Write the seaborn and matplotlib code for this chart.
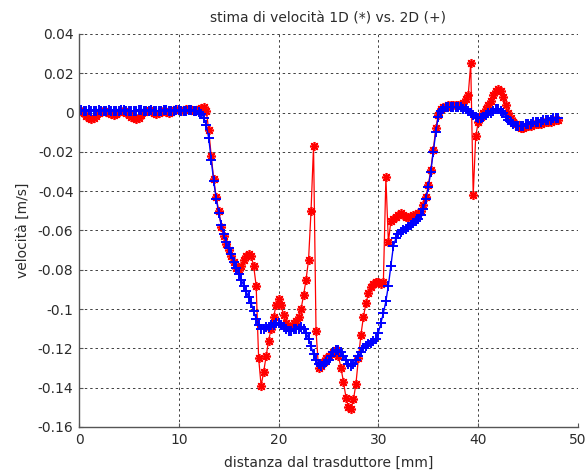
import numpy as np
import matplotlib
matplotlib.use("Agg")
import matplotlib.pyplot as plt
import seaborn as sns

sns.set_style("white")
plt.rcParams["font.family"] = ["DejaVu Sans"]
plt.rcParams["axes.unicode_minus"] = False

# sampling positions along the beam [mm], 0.25 mm step
distanza = np.arange(0, 48.01, 0.25)

# 1D velocity estimate [m/s]
vel_1d = [
    0.0010, 0.0008, 0.0000, -0.0015, -0.0030, -0.0035, -0.0030, -0.0015,
    0.0000, 0.0008, 0.0010, 0.0005, 0.0000, -0.0008, -0.0010, -0.0005,
    0.0005, 0.0010, 0.0008, 0.0000, -0.0010, -0.0020, -0.0030, -0.0035,
    -0.0025, -0.0010, 0.0005, 0.0010, 0.0012, 0.0008, 0.0000, -0.0005,
    0.0000, 0.0008, 0.0010, 0.0005, 0.0000, 0.0005, 0.0015, 0.0020,
    0.0015, 0.0010, 0.0012, 0.0018, 0.0020, 0.0015, 0.0010, 0.0015,
    0.0020, 0.0025, 0.0030, 0.0010, -0.009, -0.022, -0.034, -0.043,
    -0.050, -0.058, -0.063, -0.067, -0.070, -0.073, -0.076, -0.079,
    -0.080, -0.078, -0.075, -0.073, -0.072, -0.073, -0.078, -0.088,
    -0.125, -0.139, -0.132, -0.124, -0.116, -0.110, -0.104, -0.098,
    -0.095, -0.098, -0.103, -0.107, -0.109, -0.109, -0.107, -0.106,
    -0.104, -0.100, -0.093, -0.085, -0.075, -0.050, -0.017, -0.111,
    -0.130, -0.129, -0.127, -0.125, -0.124, -0.123, -0.122, -0.121,
    -0.124, -0.130, -0.137, -0.145, -0.150, -0.151, -0.146, -0.138,
    -0.125, -0.113, -0.104, -0.097, -0.092, -0.089, -0.087, -0.086,
    -0.086, -0.087, -0.086, -0.033, -0.066, -0.055, -0.054, -0.053,
    -0.052, -0.051, -0.052, -0.053, -0.053, -0.053, -0.052, -0.052,
    -0.051, -0.050, -0.047, -0.043, -0.037, -0.029, -0.019, -0.008,
    -0.001, 0.002, 0.003, 0.003, 0.004, 0.004, 0.004, 0.004,
    0.004, 0.004, 0.005, 0.007, 0.009, 0.025, -0.042, -0.012,
    -0.005, -0.002, 0.000, 0.002, 0.004, 0.006, 0.009, 0.011,
    0.012, 0.011, 0.008, 0.004, 0.000, -0.003, -0.005, -0.006,
    -0.007, -0.008, -0.008, -0.007, -0.007, -0.007, -0.006, -0.006,
    -0.006, -0.006, -0.005, -0.005, -0.005, -0.005, -0.004, -0.004,
    -0.004,
]

# 2D velocity estimate [m/s]
vel_2d = [
    0.0010, 0.0012, 0.0008, 0.0010, 0.0011, 0.0009, 0.0007, 0.0010,
    0.0012, 0.0010, 0.0008, 0.0009, 0.0011, 0.0010, 0.0009, 0.0008,
    0.0010, 0.0012, 0.0011, 0.0009, 0.0010, 0.0010, 0.0008, 0.0009,
    0.0011, 0.0012, 0.0010, 0.0009, 0.0010, 0.0011, 0.0010, 0.0008,
    0.0009, 0.0010, 0.0012, 0.0011, 0.0010, 0.0009, 0.0010, 0.0011,
    0.0012, 0.0010, 0.0009, 0.0010, 0.0011, 0.0012, 0.0010, 0.0009,
    0.0005, -0.0005, -0.0025, -0.0065, -0.013, -0.024, -0.035, -0.044,
    -0.051, -0.057, -0.062, -0.066, -0.069, -0.072, -0.076, -0.079,
    -0.082, -0.085, -0.088, -0.091, -0.094, -0.097, -0.101, -0.105,
    -0.108, -0.110, -0.110, -0.109, -0.109, -0.108, -0.108, -0.107,
    -0.107, -0.108, -0.109, -0.110, -0.111, -0.111, -0.110, -0.110,
    -0.110, -0.109, -0.110, -0.112, -0.115, -0.119, -0.123, -0.126,
    -0.128, -0.129, -0.128, -0.127, -0.126, -0.124, -0.122, -0.121,
    -0.121, -0.122, -0.124, -0.126, -0.128, -0.129, -0.128, -0.126,
    -0.124, -0.122, -0.120, -0.119, -0.118, -0.117, -0.116, -0.115,
    -0.112, -0.107, -0.102, -0.096, -0.088, -0.078, -0.068, -0.064,
    -0.062, -0.061, -0.060, -0.059, -0.058, -0.057, -0.056, -0.055,
    -0.054, -0.052, -0.049, -0.044, -0.038, -0.030, -0.020, -0.010,
    -0.002, 0.001, 0.002, 0.003, 0.003, 0.003, 0.003, 0.003,
    0.003, 0.003, 0.002, 0.002, 0.001, 0.000, -0.001, -0.002,
    -0.003, -0.003, -0.002, -0.001, 0.000, 0.000, 0.001, 0.002,
    0.002, 0.001, 0.000, -0.002, -0.004, -0.005, -0.006, -0.007,
    -0.007, -0.007, -0.007, -0.006, -0.006, -0.006, -0.005, -0.005,
    -0.005, -0.005, -0.004, -0.004, -0.004, -0.004, -0.003, -0.003,
    -0.003,
]

x_ticks = [0, 10, 20, 30, 40, 50]
y_ticks = [0.04, 0.02, 0, -0.02, -0.04, -0.06, -0.08, -0.1, -0.12, -0.14, -0.16]

text_col = "#2b2b2b"

fig, ax = plt.subplots(figsize=(5.87, 4.73), dpi=100)
fig.subplots_adjust(left=79 / 587, right=578 / 587, bottom=1 - 427 / 473, top=1 - 34 / 473)

sns.lineplot(x=distanza, y=vel_1d, ax=ax, color="red", marker=(8, 2, 0),
             markersize=6.5, markeredgecolor="red", markeredgewidth=1.2,
             linewidth=0.9, estimator=None, sort=False)
sns.lineplot(x=distanza, y=vel_2d, ax=ax, color="blue", marker="+",
             markersize=7, markeredgecolor="blue", markeredgewidth=1.4,
             linewidth=1.0, estimator=None, sort=False)

ax.set_xlim(0, 50)
ax.set_ylim(-0.16, 0.04)
ax.set_xticks(x_ticks)
ax.set_xticklabels([f"{v:g}" for v in x_ticks])
ax.set_yticks(y_ticks)
ax.set_yticklabels([f"{v:g}" for v in y_ticks])

ax.grid(True, color="#404040", linestyle=(0, (2.5, 3)), linewidth=0.7)
ax.set_axisbelow(True)
for side in ("top", "right"):
    ax.spines[side].set_visible(False)
for side in ("left", "bottom"):
    ax.spines[side].set_color("#555555")
    ax.spines[side].set_linewidth(1.0)

ax.tick_params(direction="in", length=3, color="#555555", labelsize=10,
               labelcolor=text_col, left=True, bottom=True, pad=4)

ax.set_title("stima di velocità 1D (*) vs. 2D (+)", fontsize=10, color=text_col, pad=8)
ax.set_xlabel("distanza dal trasduttore [mm]", fontsize=10, color=text_col, labelpad=7)
ax.set_ylabel("velocità [m/s]", fontsize=10, color=text_col, labelpad=6)

fig.savefig("out.png", dpi=100)
